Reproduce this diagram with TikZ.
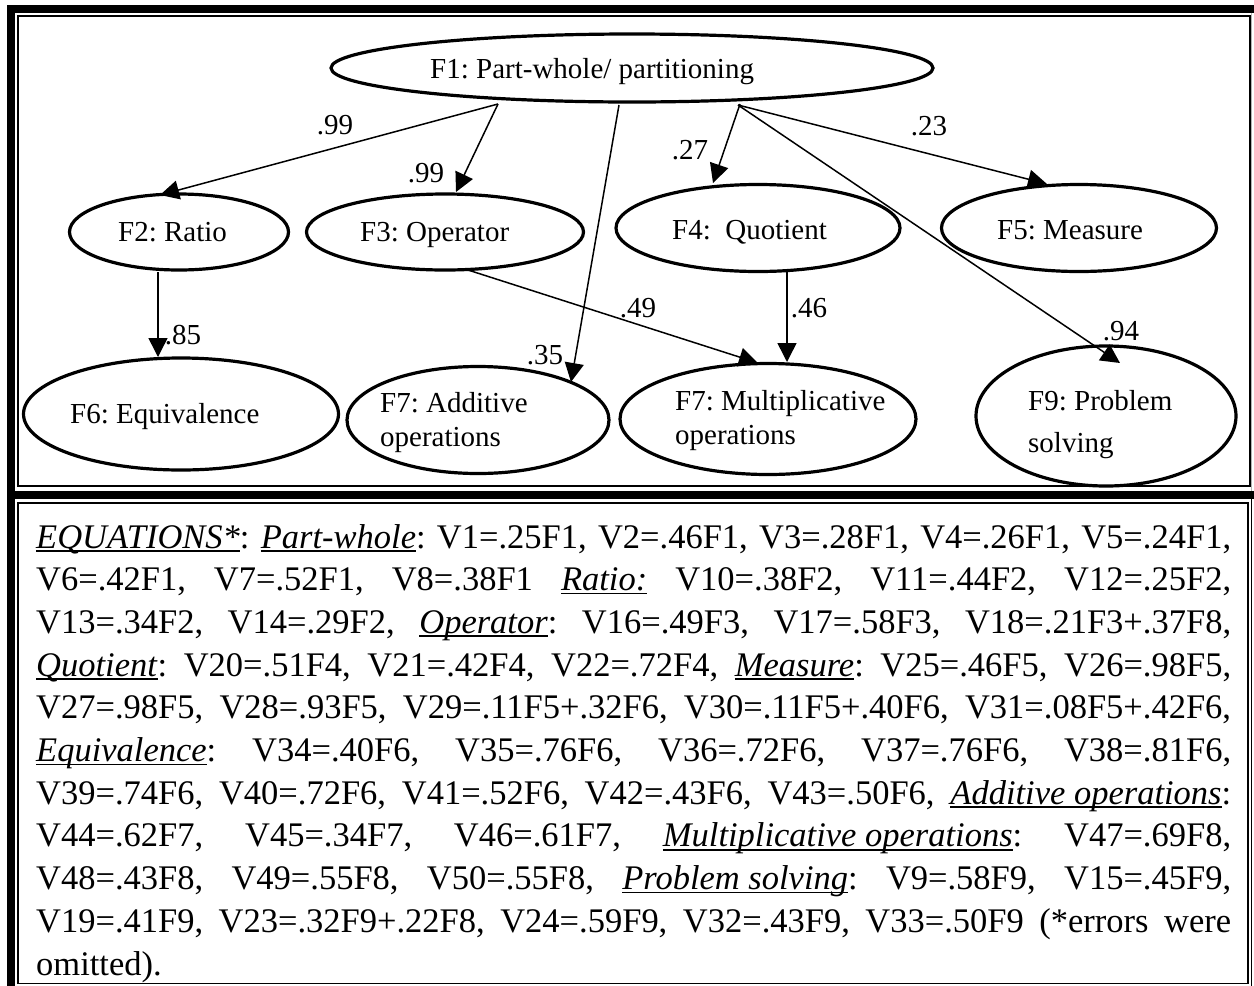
\documentclass[tikz,border=0pt]{standalone}
\usepackage{fontspec}
\setmainfont{Liberation Serif}
\usetikzlibrary{shapes.geometric,arrows.meta}
\frenchspacing
\newcommand\myul[1]{\setbox0\hbox{#1}\rlap{\rule[-3.6pt]{\wd0}{1.6pt}}\box0\relax}
\newcommand\uit[1]{\myul{\textit{#1}}}
\newcommand\eqline[1]{\makebox[1195pt][s]{#1}}
\newcommand\fnode{\fontsize{29}{34}\selectfont}
\newcommand\fbody{\fontsize{34.5}{42.7}\selectfont}
\begin{document}
\frenchspacing
\begin{tikzpicture}[x=1pt,y=-1pt,
  ell/.style={draw, ellipse, line width=3.2pt, inner sep=0pt, outer sep=0pt},
  arr/.style={line width=1.5pt, -{Triangle[length=19pt,width=19pt]}},
  txt/.style={font=\fnode, inner sep=0pt, anchor=base west},
  coef/.style={font=\fnode, inner sep=0pt},
  eqtxt/.style={font=\fbody, inner sep=0pt, anchor=base west}]
\useasboundingbox (0,0) rectangle (1254,986);
\fill[white] (0,0) rectangle (1254,986);
% frames
\fill[black] (7,5) rectangle (1254,12.5);
\fill[black] (7,5) rectangle (15,986);
\fill[black] (7,490.5) rectangle (1254,498.5);
\draw[line width=1.6pt] (17.8,15.8) rectangle (1249.8,486.2);
\draw[line width=1.6pt] (17.8,503) rectangle (1248.2,983.6);
\draw[line width=1.4pt] (1251.6,498.5) -- (1251.6,986);
\draw[gray!60, line width=1pt] (1251.8,12.5) -- (1251.8,490.5);
% ellipses
\node[ell, minimum width=602pt, minimum height=68pt] (f1) at (632,68) {};
\node[ell, minimum width=219pt, minimum height=76pt] (f2) at (179,232) {};
\node[ell, minimum width=277pt, minimum height=76pt] (f3) at (445,232) {};
\node[ell, minimum width=284pt, minimum height=87pt] (f4) at (758,228) {};
\node[ell, minimum width=275pt, minimum height=87pt] (f5) at (1079,228) {};
\node[ell, minimum width=315pt, minimum height=112pt] (f6) at (181,414) {};
\node[ell, minimum width=262pt, minimum height=107pt] (f7) at (478,420) {};
\node[ell, minimum width=296pt, minimum height=111pt] (f8) at (768,419) {};
\node[ell, minimum width=260pt, minimum height=140pt] (f9) at (1106,416) {};
% ellipse texts
\node[txt] (t1) at (430,78) {F1: Part-whole/ partitioning};
\node[txt] (t2) at (118,241) {F2: Ratio};
\node[txt] (t3) at (360,241) {F3: Operator};
\node[txt] (t4) at (672,239) {F4:\ \ Quotient};
\node[txt] (t5) at (997,239) {F5: Measure};
\node[txt] (t6) at (70,423) {F6: Equivalence};
\node[txt] (t7) at (380,412) {\vtop{\baselineskip=34pt\hbox{F7: Additive}\hbox{operations}}};
\node[txt] (t8) at (675,410) {\vtop{\baselineskip=34pt\hbox{F7: Multiplicative}\hbox{operations}}};
\node[txt] (t9) at (1028,410) {\vtop{\baselineskip=42pt\hbox{F9: Problem}\hbox{solving}}};
% connectors
\draw[arr] ([shift={(-134,36)}]f1.center) -- ([shift={(-19,-37)}]f2.center);
\draw[arr] ([shift={(-134,36)}]f1.center) -- ([shift={(11,-40)}]f3.center);
\draw[arr] ([shift={(-13,37)}]f1.center) -- ([shift={(93,-38)}]f7.center);
\draw[arr] ([shift={(108,36)}]f1.center) -- ([shift={(-45,-45)}]f4.center);
\draw[arr] ([shift={(106,37)}]f1.center) -- ([shift={(-32,-44)}]f5.center);
\draw[arr] ([shift={(106,37)}]f1.center) -- ([shift={(14,-53)}]f9.center);
\draw[arr] ([shift={(-21,40)}]f2.center) -- ([shift={(-23,-57)}]f6.center);
\draw[arr] ([shift={(23,38)}]f3.center) -- ([shift={(-10,-56)}]f8.center);
\draw[arr] ([shift={(29,44)}]f4.center) -- ([shift={(19,-57)}]f8.center);
% coefficients
\node[coef] (c1) at (335,125) {.99};
\node[coef] (c2) at (426,173) {.99};
\node[coef] (c3) at (545,355) {.35};
\node[coef] (c4) at (690,150) {.27};
\node[coef] (c5) at (929,126) {.23};
\node[coef] (c6) at (1121,331) {.94};
\node[coef] (c7) at (183,335) {.85};
\node[coef] (c8) at (638,308) {.49};
\node[coef] (c9) at (809,308) {.46};
% equations
\node[eqtxt] (e1) at (36,548) {\eqline{\uit{EQUATIONS*}: \uit{Part-whole}: V1=.25F1, V2=.46F1, V3=.28F1, V4=.26F1, V5=.24F1,}};
\node[eqtxt] (e2) at (36,590.7) {\eqline{V6=.42F1, V7=.52F1, V8=.38F1 \uit{Ratio:} V10=.38F2, V11=.44F2, V12=.25F2,}};
\node[eqtxt] (e3) at (36,633.4) {\eqline{V13=.34F2, V14=.29F2, \uit{Operator}: V16=.49F3, V17=.58F3, V18=.21F3+.37F8,}};
\node[eqtxt] (e4) at (36,676.1) {\eqline{\uit{Quotient}: V20=.51F4, V21=.42F4, V22=.72F4, \uit{Measure}: V25=.46F5, V26=.98F5,}};
\node[eqtxt] (e5) at (36,718.8) {\eqline{V27=.98F5, V28=.93F5, V29=.11F5+.32F6, V30=.11F5+.40F6, V31=.08F5+.42F6,}};
\node[eqtxt] (e6) at (36,761.5) {\eqline{\uit{Equivalence}: V34=.40F6, V35=.76F6, V36=.72F6, V37=.76F6, V38=.81F6,}};
\node[eqtxt] (e7) at (36,804.2) {\eqline{V39=.74F6, V40=.72F6, V41=.52F6, V42=.43F6, V43=.50F6, \uit{Additive operations}:}};
\node[eqtxt] (e8) at (36,846.9) {\eqline{V44=.62F7, V45=.34F7, V46=.61F7, \uit{Multiplicative operations}: V47=.69F8,}};
\node[eqtxt] (e9) at (36,889.6) {\eqline{V48=.43F8, V49=.55F8, V50=.55F8, \uit{Problem solving}: V9=.58F9, V15=.45F9,}};
\node[eqtxt] (e10) at (36,932.3) {\eqline{V19=.41F9, V23=.32F9+.22F8, V24=.59F9, V32=.43F9, V33=.50F9 (*errors were}};
\node[eqtxt] (e11) at (36,975) {omitted).};
\end{tikzpicture}
\end{document}
